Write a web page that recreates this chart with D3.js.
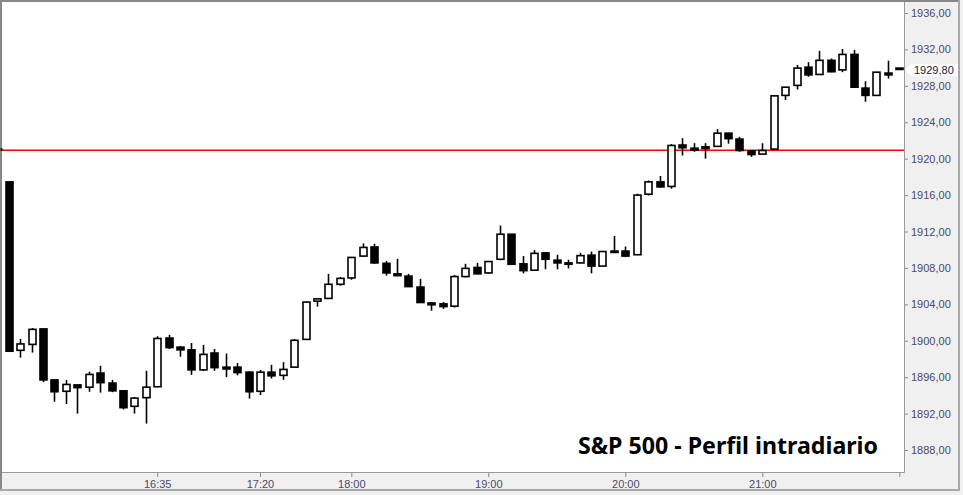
<!DOCTYPE html>
<html>
<head>
<meta charset="utf-8">
<script src="https://cdn.jsdelivr.net/npm/d3@7"></script>
<style>
  html, body { margin: 0; padding: 0; background: #f0f0f0; }
  svg { display: block; }
  .axis text { font-family: "Liberation Sans", Arial, sans-serif; font-size: 11px; fill: #4a4a66; }
  .axis line { stroke: #8a8a8a; }
</style>
</head>
<body>
<svg id="chart"></svg>
<script>
// 5-minute bars, 15:30 to 22:00
const times = [
  '15:30','15:35','15:40','15:45','15:50','15:55','16:00','16:05','16:10','16:15','16:20','16:25',
  '16:30','16:35','16:40','16:45','16:50','16:55','17:00','17:05','17:10','17:15','17:20','17:25',
  '17:30','17:35','17:40','17:45','17:50','17:55','18:00','18:05','18:10','18:15','18:20','18:25',
  '18:30','18:35','18:40','18:45','18:50','18:55','19:00','19:05','19:10','19:15','19:20','19:25',
  '19:30','19:35','19:40','19:45','19:50','19:55','20:00','20:05','20:10','20:15','20:20','20:25',
  '20:30','20:35','20:40','20:45','20:50','20:55','21:00','21:05','21:10','21:15','21:20','21:25',
  '21:30','21:35','21:40','21:45','21:50','21:55','22:00'
];
const open = [
  1917.45,1898.95,1899.60,1901.30,1895.70,1894.45,1895.15,1894.90,1896.45,1895.35,1894.50,1892.80,
  1893.75,1894.95,1900.30,1899.30,1899.00,1896.80,1898.65,1897.10,1897.10,1896.55,1894.45,1896.55,
  1896.20,1897.10,1900.15,1904.35,1904.65,1906.20,1906.90,1909.30,1910.30,1908.50,1907.35,1907.10,
  1905.90,1904.15,1904.05,1903.80,1907.05,1908.05,1907.45,1908.95,1911.70,1908.45,1907.75,1909.65,
  1908.85,1908.55,1908.55,1909.40,1908.20,1909.85,1909.85,1909.45,1916.10,1917.45,1916.95,1921.50,
  1921.15,1921.30,1921.35,1922.80,1922.15,1920.85,1920.50,1921.05,1926.95,1928.05,1930.05,1929.25,
  1930.80,1929.75,1931.45,1927.75,1926.95,1929.40,1929.95
];
const high = [
  1917.45,1900.20,1901.40,1901.30,1895.70,1895.70,1895.15,1896.60,1897.25,1895.70,1894.50,1893.80,
  1896.70,1900.50,1900.65,1899.40,1899.75,1899.55,1899.10,1898.60,1897.55,1896.65,1896.80,1897.35,
  1897.65,1900.20,1904.30,1904.70,1907.35,1907.00,1909.20,1910.70,1910.65,1908.75,1909.00,1907.35,
  1906.80,1904.25,1904.25,1907.20,1908.45,1908.55,1908.75,1912.65,1911.70,1909.30,1909.95,1909.75,
  1909.45,1908.90,1909.65,1909.80,1909.85,1911.50,1910.35,1916.15,1917.60,1918.10,1921.60,1922.25,
  1921.70,1921.70,1923.25,1922.85,1922.40,1920.85,1921.70,1926.90,1927.85,1930.30,1930.60,1931.85,
  1931.00,1932.05,1931.95,1928.50,1929.50,1930.75,1929.95
];
const low = [
  1898.85,1898.15,1898.70,1895.45,1893.30,1893.05,1892.00,1894.40,1894.30,1894.35,1892.45,1892.00,
  1890.90,1894.90,1899.10,1898.25,1896.25,1896.70,1896.70,1896.00,1896.20,1893.65,1894.05,1895.85,
  1895.70,1897.05,1900.10,1903.75,1904.60,1906.05,1906.70,1909.25,1908.45,1907.15,1907.10,1905.90,
  1904.15,1903.30,1903.50,1903.65,1906.95,1907.30,1907.40,1908.85,1908.40,1907.40,1907.70,1907.85,
  1907.85,1907.95,1908.50,1907.40,1908.20,1909.65,1909.20,1909.40,1915.95,1916.80,1916.70,1920.35,
  1920.75,1920.00,1921.30,1921.65,1920.75,1920.20,1920.50,1921.00,1926.45,1927.60,1929.00,1929.25,
  1929.50,1929.50,1927.85,1926.25,1926.95,1928.80,1929.80
];
const close = [
  1898.85,1899.65,1901.25,1895.70,1894.40,1895.20,1894.85,1896.30,1895.40,1894.50,1892.65,1893.70,
  1894.90,1900.25,1899.25,1899.00,1896.80,1898.50,1897.05,1896.90,1896.50,1894.40,1896.55,1896.15,
  1896.85,1900.05,1904.25,1904.60,1906.20,1906.85,1909.15,1910.25,1908.55,1907.45,1907.15,1905.95,
  1904.20,1903.95,1903.75,1907.05,1907.95,1907.35,1908.70,1911.70,1908.40,1907.70,1909.60,1908.95,
  1908.55,1908.40,1909.35,1908.20,1909.80,1909.70,1909.30,1916.00,1917.45,1916.90,1921.45,1921.20,
  1920.95,1921.10,1922.80,1922.20,1920.90,1920.45,1920.90,1926.90,1927.85,1929.95,1929.20,1930.80,
  1929.55,1931.45,1927.85,1926.95,1929.50,1929.20,1929.80
];
const referenceLevel = 1920.92;
const lastPrice = 1929.80;
const yTicks = [1888, 1892, 1896, 1900, 1904, 1908, 1912, 1916, 1920, 1924, 1928, 1932, 1936];
const xTickLabels = ['16:35', '17:20', '18:00', '19:00', '20:00', '21:00', '22:00'];
const title = 'S&P 500 - Perfil intradiario';

document.addEventListener('DOMContentLoaded', () => {
    const W = 963, H = 495;
    // plot box inside the grey frame
    const plot = { left: 2, top: 2, right: 904, bottom: 472 };

    const parseTime = d3.timeParse('%H:%M');
    const fmtNum = d3.formatLocale({ decimal: ',', thousands: '.', grouping: [3], currency: ['', '€'] }).format('.2f');

    const bars = times.map((t, i) => ({
        time: parseTime(t), open: open[i], high: high[i], low: low[i], close: close[i]
    }));

    const svg = d3.select('#chart').attr('width', W).attr('height', H);

    // Background and frame
    svg.append('rect').attr('width', W).attr('height', H).attr('fill', '#f0f0f0');
    svg.append('rect')
        .attr('x', plot.left).attr('y', plot.top)
        .attr('width', plot.right - plot.left).attr('height', plot.bottom - plot.top)
        .attr('fill', '#fff');
    svg.append('path')
        .attr('d', `M${plot.right + 0.5},${plot.top}V${plot.bottom + 0.5}H${plot.left}`)
        .attr('fill', 'none').attr('stroke', '#9a9a9a').attr('stroke-width', 1);
    svg.append('path')
        .attr('d', `M1,${H - 4}V1H${W - 4}`)
        .attr('fill', 'none').attr('stroke', '#888', ).attr('stroke-width', 2);
    svg.append('path')
        .attr('d', `M0,${H - 5}H${W - 4}V0`)
        .attr('fill', 'none').attr('stroke', '#a8a8a8').attr('stroke-width', 2);

    // Scales
    const x = d3.scaleTime()
        .domain([parseTime('15:30'), parseTime('22:00')])
        .range([8.8, 899.3]);
    const y = d3.scaleLinear()
        .domain([1888, 1936])
        .range([450, 13]);

    // Clip for the chart area
    svg.append('clipPath').attr('id', 'plotClip')
        .append('rect')
        .attr('x', plot.left).attr('y', plot.top)
        .attr('width', plot.right - plot.left).attr('height', plot.bottom - plot.top);
    const g = svg.append('g').attr('clip-path', 'url(#plotClip)');

    // Reference level (red line)
    g.append('line')
        .attr('x1', plot.left).attr('x2', plot.right)
        .attr('y1', y(referenceLevel)).attr('y2', y(referenceLevel))
        .attr('stroke', '#ff0000').attr('stroke-width', 1.5);
    svg.append('rect')
        .attr('x', 0.5).attr('y', y(referenceLevel) - 2)
        .attr('width', 2).attr('height', 2.5)
        .attr('fill', '#000');

    // Candles
    const bodyW = 7;
    const candles = g.selectAll('.candle')
        .data(bars)
        .enter()
        .append('g')
        .attr('class', 'candle');

    candles.append('line')
        .attr('x1', d => Math.round(x(d.time)) + 0.5)
        .attr('x2', d => Math.round(x(d.time)) + 0.5)
        .attr('y1', d => y(d.high))
        .attr('y2', d => y(d.low))
        .attr('stroke', '#000')
        .attr('stroke-width', 1.6);

    candles.append('rect')
        .attr('x', d => Math.round(x(d.time)) + 0.5 - bodyW / 2)
        .attr('y', d => y(Math.max(d.open, d.close)))
        .attr('width', bodyW)
        .attr('height', d => Math.max(1.2, Math.abs(y(d.open) - y(d.close))))
        .attr('fill', d => d.close < d.open ? '#000' : '#fff')
        .attr('stroke', '#000')
        .attr('stroke-width', 1.6);

    // Title
    svg.append('text')
        .attr('x', 578)
        .attr('y', 453.5)
        .attr('textLength', 300)
        .attr('lengthAdjust', 'spacingAndGlyphs')
        .style('font-family', '"Noto Sans", "Open Sans", sans-serif')
        .style('font-weight', 'bold')
        .style('font-size', '23.5px')
        .style('fill', '#000')
        .text(title);

    // Y axis (right)
    const yAxis = svg.append('g')
        .attr('class', 'axis y-axis')
        .attr('transform', `translate(${plot.right + 1},0)`)
        .call(d3.axisRight(y).tickValues(yTicks).tickSize(3).tickPadding(3).tickFormat(fmtNum));
    yAxis.select('.domain').remove();

    // X axis (bottom)
    const xAxis = svg.append('g')
        .attr('class', 'axis x-axis')
        .attr('transform', `translate(0,${plot.bottom + 1})`)
        .call(d3.axisBottom(x)
            .tickValues(xTickLabels.map(parseTime))
            .tickSize(4)
            .tickPadding(3)
            .tickFormat(d => {
                const s = d3.timeFormat('%H:%M')(d);
                return s === '22:00' ? '' : s;
            }));
    xAxis.select('.domain').remove();

    // Last price marker
    const py = y(lastPrice) + 0.5;
    svg.append('path')
        .attr('d', `M${plot.right + 1},${py}L${plot.right + 7},${py - 6}H${W - 5}V${py + 6}H${plot.right + 7}Z`)
        .attr('fill', '#fff');
    svg.append('text')
        .attr('x', plot.right + 10)
        .attr('y', py)
        .attr('dy', '0.35em')
        .style('font-family', '"Liberation Sans", Arial, sans-serif')
        .style('font-size', '11px')
        .style('fill', '#1a1a3a')
        .text(fmtNum(lastPrice));
});
</script>
</body>
</html>
